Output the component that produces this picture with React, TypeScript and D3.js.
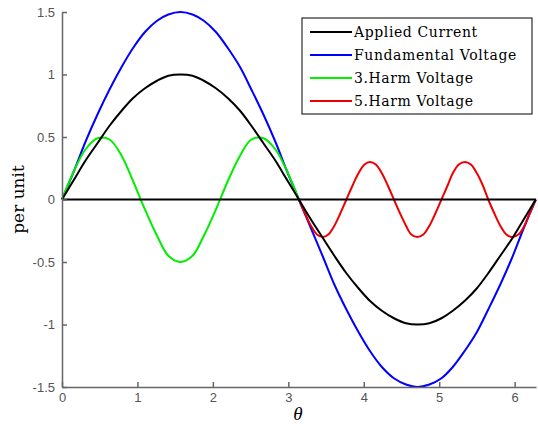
import React, { useEffect, useRef } from 'react';
import * as d3 from 'd3';

// theta samples (rad), step ~pi/20
const thetaMain = [0, 0.16, 0.31, 0.47, 0.63, 0.79, 0.94, 1.10, 1.26, 1.41, 1.57, 1.73, 1.88, 2.04, 2.20, 2.36, 2.51, 2.67, 2.83, 2.98, 3.14,
  3.30, 3.46, 3.61, 3.77, 3.93, 4.08, 4.24, 4.40, 4.56, 4.71, 4.87, 5.03, 5.18, 5.34, 5.50, 5.65, 5.81, 5.97, 6.12, 6.28];

const appliedCurrent = [0, 0.16, 0.31, 0.45, 0.59, 0.71, 0.81, 0.89, 0.95, 0.99, 1, 0.99, 0.95, 0.89, 0.81, 0.71, 0.59, 0.45, 0.31, 0.16, 0,
  -0.16, -0.31, -0.45, -0.59, -0.71, -0.81, -0.89, -0.95, -0.99, -1, -0.99, -0.95, -0.89, -0.81, -0.71, -0.59, -0.45, -0.31, -0.16, 0];

const fundamentalVoltage = [0, 0.23, 0.46, 0.68, 0.88, 1.06, 1.21, 1.34, 1.43, 1.48, 1.5, 1.48, 1.43, 1.34, 1.21, 1.06, 0.88, 0.68, 0.46, 0.23, 0,
  -0.23, -0.46, -0.68, -0.88, -1.06, -1.21, -1.34, -1.43, -1.48, -1.5, -1.48, -1.43, -1.34, -1.21, -1.06, -0.88, -0.68, -0.46, -0.23, 0];

// 3rd harmonic only drawn over first half
const thetaHarm3 = thetaMain.slice(0, 21);
const harm3Voltage = [0, 0.23, 0.40, 0.49, 0.48, 0.35, 0.15, -0.08, -0.29, -0.45, -0.5, -0.45, -0.29, -0.08, 0.15, 0.35, 0.48, 0.49, 0.40, 0.23, 0];

// 5th harmonic over second half, step ~pi/40
const thetaHarm5 = [3.14, 3.22, 3.30, 3.38, 3.46, 3.53, 3.61, 3.69, 3.77, 3.85, 3.93, 4.01, 4.08, 4.16, 4.24, 4.32, 4.40, 4.48, 4.56, 4.63, 4.71,
  4.79, 4.87, 4.95, 5.03, 5.11, 5.18, 5.26, 5.34, 5.42, 5.50, 5.58, 5.65, 5.73, 5.81, 5.89, 5.97, 6.05, 6.13, 6.20, 6.28];
const harm5Voltage = [0, -0.11, -0.21, -0.28, -0.3, -0.28, -0.21, -0.11, 0, 0.11, 0.21, 0.28, 0.3, 0.28, 0.21, 0.11, 0,
  -0.11, -0.21, -0.28, -0.3, -0.28, -0.21, -0.11, 0, 0.11, 0.21, 0.28, 0.3, 0.28, 0.21, 0.11, 0,
  -0.11, -0.21, -0.28, -0.3, -0.28, -0.21, -0.11, 0];

const xTicks = [0, 1, 2, 3, 4, 5, 6];
const yTicks = [-1.5, -1, -0.5, 0, 0.5, 1, 1.5];

const series = [
  { name: 'Applied Current', color: '#000000', x: thetaMain, y: appliedCurrent },
  { name: 'Fundamental Voltage', color: '#0000ff', x: thetaMain, y: fundamentalVoltage },
  { name: '3.Harm Voltage', color: '#00ee00', x: thetaHarm3, y: harm3Voltage },
  { name: '5.Harm Voltage', color: '#ee0000', x: thetaHarm5, y: harm5Voltage },
];

export default function App() {
  const svgRef = useRef<SVGSVGElement>(null);

  useEffect(() => {
    const svg = d3.select(svgRef.current);
    svg.selectAll('*').remove();

    const xScale = d3.scaleLinear().domain([0, 2 * Math.PI]).range([62, 536]);
    const yScale = d3.scaleLinear().domain([-1.5, 1.5]).range([387, 12]);

    svg.append('rect').attr('width', 538).attr('height', 432).attr('fill', '#fff');

    const line = d3.line<[number, number]>()
      .x((d) => xScale(d[0]))
      .y((d) => yScale(d[1]))
      .curve(d3.curveCatmullRom);

    // draw in order so black sits on top like the original
    const drawOrder = [series[1], series[2], series[3], series[0]];
    drawOrder.forEach((s) => {
      const pts = s.x.map((t, i) => [t, s.y[i]] as [number, number]);
      svg.append('path')
        .attr('d', line(pts)!)
        .attr('fill', 'none')
        .attr('stroke', s.color)
        .attr('stroke-width', 2);
    });

    // zero line on top
    svg.append('line')
      .attr('x1', xScale(0)).attr('x2', xScale(2 * Math.PI))
      .attr('y1', yScale(0)).attr('y2', yScale(0))
      .attr('stroke', '#000').attr('stroke-width', 2);

    // axes
    const xAxis = svg.append('g')
      .attr('transform', `translate(0,${yScale(-1.5)})`)
      .call(d3.axisBottom(xScale).tickValues(xTicks).tickFormat(d3.format('d')).tickSizeInner(-5).tickSizeOuter(0).tickPadding(6));
    const yAxis = svg.append('g')
      .attr('transform', `translate(${xScale(0)},0)`)
      .call(d3.axisLeft(yScale).tickValues(yTicks).tickFormat((d) => String(d)).tickSizeInner(-5).tickSizeOuter(0).tickPadding(7));

    [xAxis, yAxis].forEach((ax) => {
      ax.select('.domain').attr('stroke', '#666').attr('stroke-width', 1.5);
      ax.selectAll('.tick line').attr('stroke', '#666').attr('stroke-width', 1.5);
      ax.selectAll('.tick text')
        .attr('fill', '#555')
        .style('font-family', 'Liberation Sans, Arial, sans-serif')
        .style('font-size', '13px');
    });

    // axis labels
    svg.append('text')
      .attr('transform', `translate(24,${yScale(0)}) rotate(-90)`)
      .attr('text-anchor', 'middle')
      .style('font-family', 'DejaVu Serif, serif')
      .style('font-size', '17px')
      .text('per unit');

    svg.append('text')
      .attr('x', 298).attr('y', 420)
      .attr('text-anchor', 'middle')
      .style('font-family', 'Liberation Serif, Times New Roman, serif')
      .style('font-style', 'italic')
      .style('font-size', '19px')
      .text('θ');

    // legend
    const legend = svg.append('g');
    legend.append('rect')
      .attr('x', 302).attr('y', 18).attr('width', 230).attr('height', 96)
      .attr('fill', '#fff').attr('stroke', '#000').attr('stroke-width', 1);

    series.forEach((s, i) => {
      const cy = 32 + i * 23;
      legend.append('line')
        .attr('x1', 310).attr('x2', 352).attr('y1', cy).attr('y2', cy)
        .attr('stroke', s.color).attr('stroke-width', 2);
      legend.append('text')
        .attr('x', 354).attr('y', cy).attr('dy', '0.35em')
        .style('font-family', 'DejaVu Serif, serif')
        .style('font-size', '14px')
        .style('letter-spacing', '0.6px')
        .text(s.name);
    });
  }, []);

  return (
    <svg
      ref={svgRef}
      width={538}
      height={432}
      style={{ position: 'absolute', left: 0, top: 0, display: 'block' }}
    />
  );
}
